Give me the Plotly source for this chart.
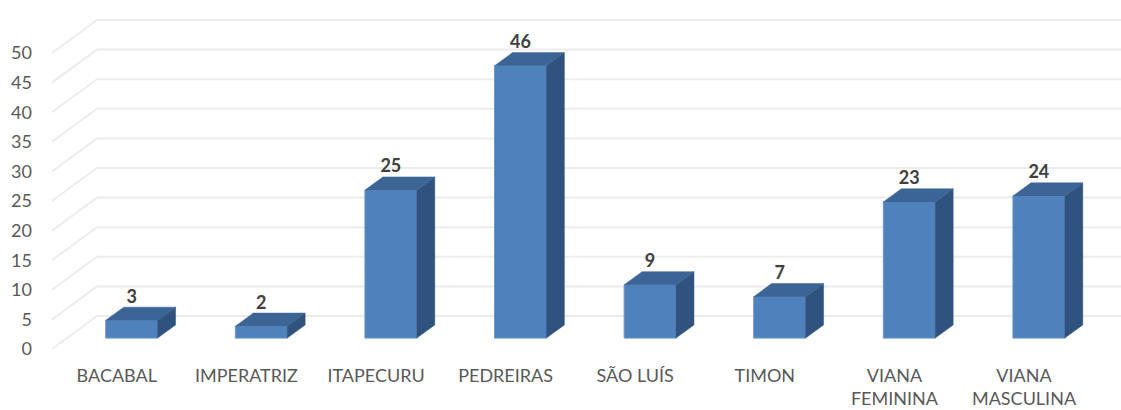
import plotly.graph_objects as go

# ---- data ----
categories = ["BACABAL", "IMPERATRIZ", "ITAPECURU", "PEDREIRAS", "SÃO LUÍS",
              "TIMON", "VIANA<br>FEMININA", "VIANA<br>MASCULINA"]
values = [3, 2, 25, 46, 9, 7, 23, 24]
y_ticks = [0, 5, 10, 15, 20, 25, 30, 35, 40, 45, 50]

# ---- geometry / style constants (pseudo-3D) ----
PX_PER_CAT = 129.6
PX_PER_UNIT = 5.92
DEPTH_X = 45 / PX_PER_CAT        # full floor depth, category units
DEPTH_Y = 33 / PX_PER_UNIT       # full floor depth, value units
F_FRONT = 0.33                   # bar front-face depth fraction
F_BACK = 0.73                    # bar back-face depth fraction
BAR_W = 0.40

W, H = 1121, 410
ML, MB = 52, 61
x0 = -0.5
x1 = x0 + (W - ML) / PX_PER_CAT
y1 = (H - MB) / PX_PER_UNIT

FRONT = "#4F81BD"
TOP = "#3C6596"
SIDE = "#30527E"
GRID = "#ECECEC"

fig = go.Figure()

# gridlines (behind everything): back wall horizontals + left-wall diagonals
for t in y_ticks:
    fig.add_shape(type="line", xref="x", yref="y", layer="below",
                  x0=x0, y0=t, x1=x0 + DEPTH_X, y1=t + DEPTH_Y,
                  line=dict(color=GRID, width=2))
    fig.add_shape(type="line", xref="x", yref="y", layer="below",
                  x0=x0 + DEPTH_X, y0=t + DEPTH_Y, x1=x1 + 1, y1=t + DEPTH_Y,
                  line=dict(color=GRID, width=2))

# bar geometry
dx = (F_BACK - F_FRONT) * DEPTH_X
dy = (F_BACK - F_FRONT) * DEPTH_Y
base = F_FRONT * DEPTH_Y
xc = [i + F_FRONT * DEPTH_X for i in range(len(values))]

sx, sy, tx, ty = [], [], [], []
for c, v in zip(xc, values):
    xl, xr = c - BAR_W / 2, c + BAR_W / 2
    yt = base + v
    # side face
    sx += [xr, xr, xr + dx, xr + dx, xr, None]
    sy += [base, yt, yt + dy, base + dy, base, None]
    # top face
    tx += [xl, xr, xr + dx, xl + dx, xl, None]
    ty += [yt, yt, yt + dy, yt + dy, yt, None]

fig.add_trace(go.Bar(x=xc, y=values, base=base, width=BAR_W,
                     marker=dict(color=FRONT, line=dict(color="#6B97CC", width=1)),
                     hoverinfo="skip", showlegend=False))
fig.add_trace(go.Scatter(x=sx, y=sy, mode="lines", fill="toself",
                         fillcolor=SIDE, line=dict(color=SIDE, width=0.5),
                         hoverinfo="skip", showlegend=False))
fig.add_trace(go.Scatter(x=tx, y=ty, mode="lines", fill="toself",
                         fillcolor=TOP, line=dict(color=TOP, width=0.5),
                         hoverinfo="skip", showlegend=False))

# value labels
fig.add_trace(go.Scatter(x=xc, y=[base + v + dy for v in values],
                         mode="text", text=[str(v) for v in values],
                         textposition="top center",
                         textfont=dict(family="Lato", size=18, color="#404040",
                                       weight="bold"),
                         hoverinfo="skip", showlegend=False))

fig.update_layout(
    width=W, height=H,
    margin=dict(l=ML, r=0, t=0, b=MB, autoexpand=False),
    plot_bgcolor="white", paper_bgcolor="white",
    barmode="overlay",
    font=dict(family="Lato", color="#595959", size=18),
    xaxis=dict(range=[x0, x1], tickmode="array",
               tickvals=list(range(len(categories))), ticktext=categories,
               showgrid=False, zeroline=False, showline=False,
               ticks="", ticklabelstandoff=14, fixedrange=True,
               tickfont=dict(size=18, color="#595959")),
    yaxis=dict(range=[0, y1], tickmode="array", tickvals=y_ticks,
               showgrid=False, zeroline=False, showline=False,
               ticks="", ticklabelstandoff=19, fixedrange=True,
               tickfont=dict(size=18, color="#595959")),
)

fig.write_html("out.html",
               config={"displayModeBar": False},
               post_script="document.body.style.margin='0';"
                           "document.body.style.padding='0';")
